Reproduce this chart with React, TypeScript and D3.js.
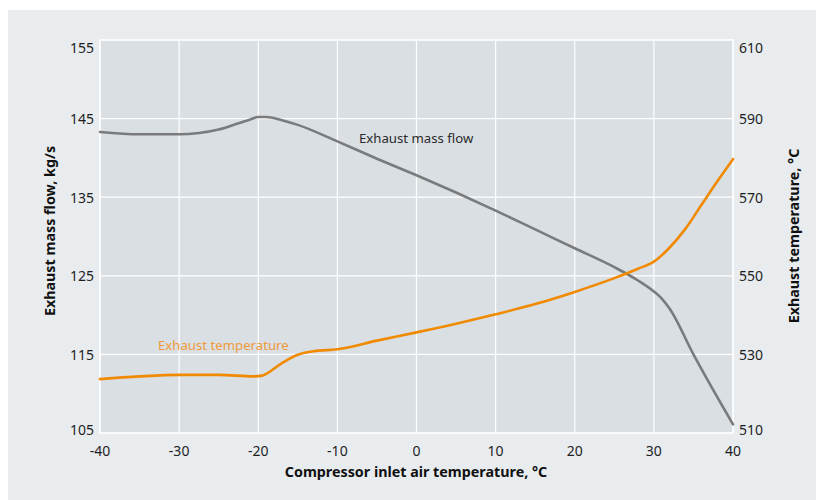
import React from "react";
import * as d3 from "d3";

const xTicks = [-40, -30, -20, -10, 0, 10, 20, 30, 40];
const leftTicks = [105, 115, 125, 135, 145, 155];
const rightTicks = [510, 530, 550, 570, 590, 610];

const flowTemps = [-40, -35, -30, -25, -22.5, -21, -20, -19, -17, -15, -10, -5, 0, 5, 10, 15, 20, 25, 28, 30, 31, 32, 35, 40];
const flowValues = [143.3, 143.0, 143.0, 143.6, 144.4, 144.9, 145.2, 145.2, 144.8, 144.2, 142.1, 139.9, 137.8, 135.6, 133.3, 130.9, 128.5, 126.1, 124.4, 123.0, 122.1, 120.8, 115.0, 106.1];

const exTemps = [-40, -35, -30, -25, -20.5, -19.5, -17, -15, -13, -10, -5, 0, 5, 10, 15, 20, 25, 28, 30, 32, 34, 36, 38, 40];
const exValues = [523.7, 524.4, 524.8, 524.8, 524.4, 524.6, 527.8, 529.9, 530.8, 531.3, 533.5, 535.6, 537.8, 540.2, 542.8, 545.9, 549.4, 551.8, 553.6, 557.2, 562.0, 568.0, 574.0, 579.7];

const W = 816;
const H = 500;
const plot = { left: 100, right: 733, top: 40, bottom: 433 };
const FONT = "'Noto Sans', 'Open Sans', sans-serif";

export default function App() {
  const x = d3.scaleLinear().domain([-40, 40]).range([plot.left, plot.right]);
  const yL = d3.scaleLinear().domain([105, 155]).range([plot.bottom, plot.top]);
  const yR = d3.scaleLinear().domain([510, 610]).range([plot.bottom, plot.top]);

  const flowLine = d3
    .line<number>()
    .x((_, i) => x(flowTemps[i]))
    .y((d) => yL(d))
    .curve(d3.curveMonotoneX)(flowValues) as string;

  const exLine = d3
    .line<number>()
    .x((_, i) => x(exTemps[i]))
    .y((d) => yR(d))
    .curve(d3.curveMonotoneX)(exValues) as string;

  const clampY = (y: number) => Math.min(Math.max(y, 47), 429);

  return (
    <svg
      width={W}
      height={H}
      style={{ position: "absolute", left: 0, top: 0, fontFamily: FONT }}
    >
      <rect x={8} y={10} width={W - 8} height={H - 10} fill="#e8ecef" />
      <rect
        x={plot.left}
        y={plot.top}
        width={plot.right - plot.left}
        height={plot.bottom - plot.top}
        fill="#dadfe3"
        stroke="#ffffff"
        strokeWidth={1.2}
      />
      {xTicks.map((t) => (
        <line key={"gx" + t} x1={x(t)} x2={x(t)} y1={plot.top} y2={plot.bottom} stroke="#ffffff" strokeWidth={1.2} />
      ))}
      {leftTicks.map((t) => (
        <line key={"gy" + t} x1={plot.left} x2={plot.right} y1={yL(t)} y2={yL(t)} stroke="#ffffff" strokeWidth={1.2} />
      ))}

      <path d={flowLine} fill="none" stroke="#7a7b7d" strokeWidth={2.6} strokeLinejoin="round" strokeLinecap="round" />
      <path d={exLine} fill="none" stroke="#f08a00" strokeWidth={2.6} strokeLinejoin="round" strokeLinecap="round" />

      <text x={359} y={142.5} fontSize={13.2} fill="#2b2b2b">Exhaust mass flow</text>
      <text x={158} y={350} fontSize={13.2} fill="#ee9a3a">Exhaust temperature</text>

      {leftTicks.map((t) => (
        <text key={"lt" + t} x={94} y={clampY(yL(t))} fontSize={14} fill="#1e1e1e" textAnchor="end" dominantBaseline="central">
          {t}
        </text>
      ))}
      {rightTicks.map((t) => (
        <text key={"rt" + t} x={739} y={clampY(yR(t))} fontSize={14} fill="#1e1e1e" textAnchor="start" dominantBaseline="central">
          {t}
        </text>
      ))}
      {xTicks.map((t) => (
        <text key={"xt" + t} x={x(t)} y={456} fontSize={14} fill="#1e1e1e" textAnchor="middle">
          {t}
        </text>
      ))}

      <text x={416} y={477} fontSize={14.3} fontWeight="bold" fill="#111" textAnchor="middle">
        Compressor inlet air temperature, °C
      </text>
      <text
        transform={`translate(55, 231) rotate(-90)`}
        fontSize={14.3}
        fontWeight="bold"
        fill="#111"
        textAnchor="middle"
      >
        Exhaust mass flow, kg/s
      </text>
      <text
        transform={`translate(799, 236) rotate(-90)`}
        fontSize={14.3}
        fontWeight="bold"
        fill="#111"
        textAnchor="middle"
      >
        Exhaust temperature, °C
      </text>
    </svg>
  );
}
